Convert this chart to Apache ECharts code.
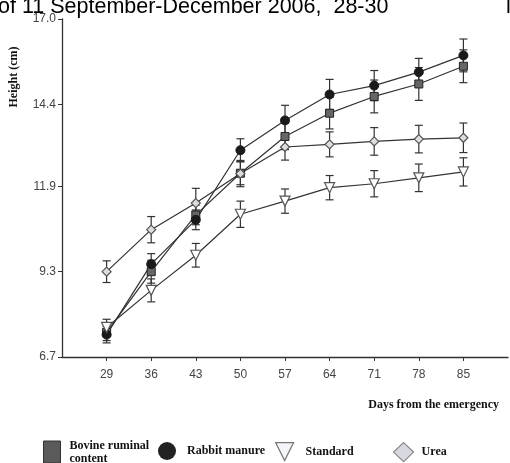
<!DOCTYPE html>
<html>
<head>
<meta charset="utf-8">
<script src="https://cdn.jsdelivr.net/npm/echarts@6/dist/echarts.min.js"></script>
<style>html,body{margin:0;padding:0;background:#fff;}#c{width:510px;height:463px;}</style>
</head>
<body>
<div id="c"></div>
<script>
// ---- data ----
const days = [29, 36, 43, 50, 57, 64, 71, 78, 85];
const bovine   = [7.45, 9.30, 11.03, 12.30, 13.42, 14.13, 14.64, 15.02, 15.56];
const rabbit   = [7.38, 9.53, 10.88, 13.00, 13.91, 14.70, 14.97, 15.38, 15.89];
const standard = [7.60, 8.73, 9.80, 11.05, 11.45, 11.86, 11.98, 12.16, 12.34];
const urea     = [9.30, 10.58, 11.39, 12.29, 13.10, 13.18, 13.27, 13.34, 13.38];
const bovineErr   = [0.25, 0.35, 0.30, 0.35, 0.40, 0.48, 0.50, 0.50, 0.50];
const rabbitErr   = [0.25, 0.32, 0.30, 0.35, 0.46, 0.46, 0.46, 0.42, 0.50];
const standardErr = [0.25, 0.35, 0.36, 0.40, 0.37, 0.37, 0.40, 0.42, 0.43];
const ureaErr     = [0.33, 0.40, 0.45, 0.40, 0.40, 0.38, 0.42, 0.42, 0.45];
const yTicks = [6.7, 9.3, 11.9, 14.4, 17.0];
const xTicks = [29, 36, 43, 50, 57, 64, 71, 78, 85];
const names = ['Bovine ruminal\ncontent', 'Rabbit manure', 'Standard', 'Urea'];

const chart = echarts.init(document.getElementById('c'), null, {renderer: 'canvas'});
const ink = '#333';

function errSeries(vals, errs) {
  return {
    type: 'custom', silent: true, z: 1,
    data: days.map((d, i) => [d, vals[i] - errs[i], vals[i] + errs[i]]),
    encode: {x: 0, y: [1, 2]},
    renderItem(params, api) {
      const x = api.value(0);
      const p1 = api.coord([x, api.value(1)]);
      const p2 = api.coord([x, api.value(2)]);
      const w = 4;
      const style = {stroke: ink, lineWidth: 1.2};
      return {type: 'group', children: [
        {type: 'line', shape: {x1: p1[0], y1: p1[1], x2: p2[0], y2: p2[1]}, style},
        {type: 'line', shape: {x1: p1[0] - w, y1: p1[1], x2: p1[0] + w, y2: p1[1]}, style},
        {type: 'line', shape: {x1: p2[0] - w, y1: p2[1], x2: p2[0] + w, y2: p2[1]}, style}
      ]};
    }
  };
}
function lineSeries(name, vals, symbol, size, itemStyle, rotate) {
  return {
    type: 'line', name, z: 3,
    data: days.map((d, i) => [d, vals[i]]),
    symbol, symbolSize: size, symbolRotate: rotate || 0,
    lineStyle: {color: ink, width: 1.2},
    itemStyle,
    emphasis: {disabled: true}
  };
}

const styles = [
  {color: '#666', borderColor: '#222', borderWidth: 1},
  {color: '#1a1a1a', borderColor: '#1a1a1a', borderWidth: 1},
  {color: '#fff', borderColor: '#555', borderWidth: 1.2},
  {color: '#ddd', borderColor: '#555', borderWidth: 1.2}
];
const legendStyles = [
  {color: '#5a5a5a', borderColor: '#333', borderWidth: 1},
  {color: '#222', borderColor: '#222', borderWidth: 0},
  {color: '#f4f6fa', borderColor: '#777', borderWidth: 1.2},
  {color: '#d8d8e0', borderColor: '#888', borderWidth: 1.2}
];
const legendIcons = ['rect', 'circle', 'path://M0,0L10,0L5,10Z', 'diamond'];
const legendLeft = [43, 158, 275, 393];
const legendTop = [439, 442, 442, 442];
const legendSize = [[17, 22], [18, 20], [18, 20], [20, 19]];
const legendPad = [4, 6, 7, 3];

const legendTextStyle = {fontFamily: 'Liberation Serif', fontWeight: 'bold', fontSize: 12, color: '#111', lineHeight: 13};

const option = {
  animation: false,
  backgroundColor: '#fff',
  grid: {left: 62, right: 2, top: 19, bottom: 106, containLabel: false},
  xAxis: {
    type: 'value', min: 22, max: 92,
    axisLine: {show: true, lineStyle: {color: ink, width: 1.3}},
    axisTick: {show: true, length: 4, customValues: xTicks, lineStyle: {color: ink}},
    axisLabel: {customValues: xTicks, margin: 12, fontFamily: 'Liberation Sans', fontSize: 12, color: '#444'},
    splitLine: {show: false}
  },
  yAxis: {
    type: 'value', min: 6.7, max: 17.0,
    axisLine: {show: true, lineStyle: {color: ink, width: 1.3}},
    axisTick: {show: true, length: 4, customValues: yTicks, lineStyle: {color: ink}},
    axisLabel: {customValues: yTicks, margin: 6, fontFamily: 'Liberation Sans', fontSize: 12, color: '#444',
      formatter: v => Number(v).toFixed(1)},
    splitLine: {show: false}
  },
  legend: names.map((n, i) => ({
    data: [{name: n, icon: legendIcons[i], itemStyle: legendStyles[i]}],
    left: legendLeft[i], top: legendTop[i], padding: 0,
    itemWidth: legendSize[i][0], itemHeight: legendSize[i][1],
    selectedMode: false,
    textStyle: Object.assign({padding: [0, 0, 0, legendPad[i]]}, legendTextStyle)
  })),
  graphic: [
    {type: 'text', x: -2, y: 7, style: {text: 'of 11 September-December 2006,  28-30', font: '21.5px "Liberation Sans"', fill: '#000', textAlign: 'left', textVerticalAlign: 'middle'}},
    {type: 'text', x: 506, y: 7, style: {text: 'l', font: '21.5px "Liberation Sans"', fill: '#000', textAlign: 'left', textVerticalAlign: 'middle'}},
    {type: 'text', x: 14, y: 77, rotation: Math.PI / 2, style: {text: 'Height (cm)', font: 'bold 12px "Liberation Serif"', fill: '#111', textAlign: 'center', textVerticalAlign: 'middle'}},
    {type: 'text', x: 499, y: 405, style: {text: 'Days from the emergency', font: 'bold 12px "Liberation Serif"', fill: '#111', textAlign: 'right', textVerticalAlign: 'middle'}}
  ],
  series: [
    errSeries(bovine, bovineErr),
    errSeries(rabbit, rabbitErr),
    errSeries(standard, standardErr),
    errSeries(urea, ureaErr),
    lineSeries(names[0], bovine, 'rect', 8, styles[0]),
    lineSeries(names[1], rabbit, 'circle', 9, styles[1]),
    lineSeries(names[2], standard, 'triangle', 10, styles[2], 180),
    lineSeries(names[3], urea, 'diamond', 9, styles[3])
  ]
};
chart.setOption(option);
</script>
</body>
</html>
